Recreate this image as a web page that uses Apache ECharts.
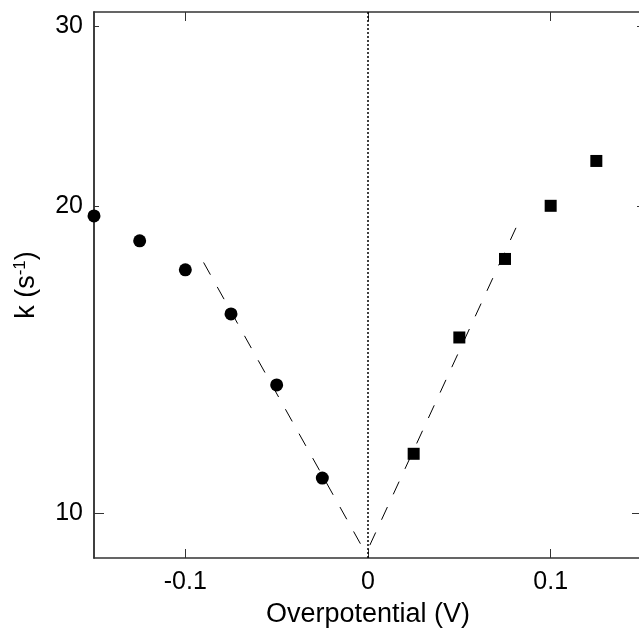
<!DOCTYPE html>
<html>
<head>
<meta charset="utf-8">
<script src="https://cdn.jsdelivr.net/npm/echarts@6/dist/echarts.min.js"></script>
<style>html,body{margin:0;padding:0;background:#fff}#c{width:639px;height:630px}</style>
</head>
<body>
<div id="c"></div>
<script>
// Data
const xCircles = [-0.15, -0.125, -0.1, -0.075, -0.05, -0.025];
const kCircles = [19.55, 18.48, 17.31, 15.67, 13.35, 10.82];
const xSquares = [0.025, 0.05, 0.075, 0.1, 0.125];
const kSquares = [11.43, 14.86, 17.74, 20.0, 22.13];
const fitLeftX = [-0.090, -0.004];
const fitLeftK = [17.6, 9.32];
const fitRightX = [0.001, 0.081];
const fitRightK = [9.30, 19.03];
const xTicks = [-0.1, 0, 0.1];
const yMajorTicks = [10];
const yMinorTicks = [20, 30];
const yLabels = [10, 20, 30];
const xMin = -0.15, xMax = 0.15, yMin = 9.035, yMax = 30.97;

const zip = (a, b) => a.map((v, i) => [v, b[i]]);
const FONT = 'Liberation Sans, Arial, sans-serif';
const AX = '#333';

const baseY = (pos, ticks, len, labels) => ({
  type: 'log', logBase: 10, min: yMin, max: yMax, position: pos,
  axisLine: {show: true, onZero: false, lineStyle: {color: AX, width: 1.5}},
  axisTick: {show: true, inside: true, length: len, customValues: ticks, lineStyle: {color: AX, width: 1}},
  axisLabel: labels ? {show: true, customValues: yLabels, fontSize: 25, color: '#000', fontFamily: FONT, margin: 11} : {show: false},
  splitLine: {show: false}, minorTick: {show: false}
});

const option = {
  animation: false,
  backgroundColor: '#fff',
  grid: {left: 94, top: 12, width: 548, height: 546, containLabel: false, outerBoundsMode: 'none'},
  xAxis: [
    {
      type: 'value', min: xMin, max: xMax, position: 'bottom',
      name: 'Overpotential (V)', nameLocation: 'middle', nameGap: 43,
      nameTextStyle: {fontSize: 27, color: '#000', fontFamily: FONT},
      axisLine: {show: true, onZero: false, lineStyle: {color: AX, width: 1.5}},
      axisTick: {show: true, inside: true, length: 9, customValues: xTicks, lineStyle: {color: AX, width: 1}},
      axisLabel: {show: true, customValues: xTicks, fontSize: 25, color: '#000', fontFamily: FONT, margin: 12,
        formatter: v => (Math.abs(v) < 1e-9 ? '0' : String(Math.round(v * 10) / 10))},
      splitLine: {show: false}
    },
    {
      type: 'value', min: xMin, max: xMax, position: 'top',
      axisLine: {show: true, onZero: false, lineStyle: {color: AX, width: 1.5}},
      axisTick: {show: true, inside: true, length: 9, customValues: xTicks, lineStyle: {color: AX, width: 1}},
      axisLabel: {show: false}, splitLine: {show: false}
    }
  ],
  yAxis: [
    Object.assign(baseY('left', yMajorTicks, 10, true), {
      name: '{k|k (s}{sup|-1}{k|)}', nameLocation: 'middle', nameGap: 53,
      nameTextStyle: {fontSize: 27, color: '#000', fontFamily: FONT,
        rich: {k: {fontSize: 27, fontFamily: FONT, color: '#000'},
               sup: {fontSize: 17, fontFamily: FONT, color: '#000', verticalAlign: 'top', padding: [0, 0, 12, 0]}}}
    }),
    baseY('left', yMinorTicks, 5, false),
    baseY('right', yMajorTicks, 10, false),
    baseY('right', yMinorTicks, 5, false)
  ],
  series: [
    {
      type: 'line', data: [[0, yMin], [0, yMax]], symbol: 'none',
      lineStyle: {color: '#000', width: 1.5, type: [2, 2]}, silent: true
    },
    {
      type: 'line', data: zip(fitLeftX, fitLeftK), symbol: 'none',
      lineStyle: {color: '#000', width: 1, type: [14, 14]}
    },
    {
      type: 'line', data: zip(fitRightX, fitRightK), symbol: 'none',
      lineStyle: {color: '#000', width: 1, type: [14, 14]}
    },
    {
      type: 'scatter', data: zip(xCircles, kCircles), symbol: 'circle', symbolSize: 13,
      itemStyle: {color: '#000', opacity: 1}, clip: false
    },
    {
      type: 'scatter', data: zip(xSquares, kSquares), symbol: 'rect', symbolSize: 12,
      itemStyle: {color: '#000', opacity: 1}, clip: false
    }
  ]
};

const chart = echarts.init(document.getElementById('c'), null, {renderer: 'canvas'});
chart.setOption(option);
</script>
</body>
</html>
